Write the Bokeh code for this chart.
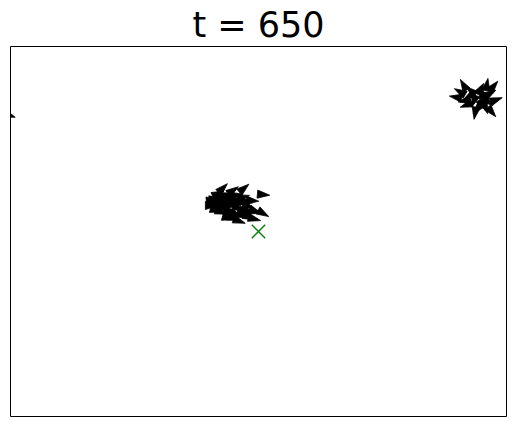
import numpy as np
from bokeh.plotting import figure
from bokeh.models import Range1d
from bokeh.embed import file_html
from bokeh.resources import INLINE

# Simulation state at t = 650 (domain 640 x 480)
title_text = "t = 650"
boid_x = [272.3, 285.2, 323.9, 323.9, 260.6, 263.2, 271.0, 277.4, 283.9, 291.6,
          298.1, 304.5, 296.8, 305.8, 312.3, 282.6, 269.7, 299.4, 309.7, 313.5,
          289.0, 256.8, 278.7, 265.8, 292.9, 275.0, 287.0, 300.0, 268.0, 280.0,
          294.0, 306.0, 262.0, 285.0, 274.0, 258.0, 270.0, 290.0, 302.0, 281.0,
          576.8, 585.8, 593.5, 605.2, 621.9, 614.2, 603.9, 619.3, 590.3, 609.0,
          598.7, 624.5, 614.2, 596.0, 608.0, 588.0, 617.0, 600.0, 612.0, 582.0,
          -3.9]
boid_y = [294.5, 291.9, 288.0, 264.7, 277.6, 268.5, 282.8, 273.7, 281.5, 271.1,
          284.1, 273.7, 262.1, 259.5, 256.9, 263.4, 266.0, 294.5, 280.2, 267.3,
          286.7, 273.7, 258.2, 288.0, 254.3, 278.0, 276.0, 266.0, 275.0, 268.0,
          278.0, 266.0, 282.0, 258.0, 287.0, 280.0, 271.0, 262.0, 279.0, 284.0,
          413.8, 428.1, 416.4, 422.9, 426.8, 410.0, 400.9, 397.0, 404.8, 417.7,
          411.4, 410.0, 428.1, 421.0, 406.0, 410.0, 418.0, 396.0, 403.0, 420.0,
          391.8]
boid_heading = [45, 35, -5, -30, 10, -15, 20, -10, 5, -15,
                15, -20, -20, -25, -15, -15, -20, 40, -5, -20,
                10, 0, -15, 25, -20, 0, -10, -20, 5, -15,
                -5, -15, 10, -20, 15, 5, -10, -20, -10, 20,
                170, 120, 210, 60, 50, -40, 230, -50, 200, 100,
                250, 20, 80, 140, 300, 190, 30, 260, -70, 150,
                -20]
target_x = [320.0]
target_y = [240.0]

# triangle shape of each boid (data units)
L, W = 16.0, 10.5
xs, ys = [], []
for x, y, h in zip(boid_x, boid_y, boid_heading):
    a = np.deg2rad(h)
    dx, dy = np.cos(a), np.sin(a)
    px, py = -dy, dx
    tip = (x + 2 / 3 * L * dx, y + 2 / 3 * L * dy)
    b1 = (x - L / 3 * dx + W / 2 * px, y - L / 3 * dy + W / 2 * py)
    b2 = (x - L / 3 * dx - W / 2 * px, y - L / 3 * dy - W / 2 * py)
    xs.append([tip[0], b1[0], b2[0]])
    ys.append([tip[1], b1[1], b2[1]])

p = figure(width=515, height=426, output_backend="svg", toolbar_location=None,
           x_range=Range1d(0, 640), y_range=Range1d(0, 480),
           min_border_left=10, min_border_right=9, min_border_bottom=10,
           min_border_top=46, title=title_text)
p.title.align = "center"
p.title.text_font = "DejaVu Sans"
p.title.text_font_size = "35px"
p.title.text_font_style = "normal"
p.title.text_color = "black"
p.title.standoff = 4
p.axis.visible = False
p.grid.visible = False
p.outline_line_color = "black"
p.outline_line_width = 1
p.background_fill_color = "white"
p.border_fill_color = "white"

p.patches(xs=xs, ys=ys, fill_color="black", line_color="black", line_width=0.8)
p.scatter(x=target_x, y=target_y, marker="x", size=19, line_color="#008000",
          line_width=1.4)

open("out.html", "w").write(file_html(p, INLINE))
